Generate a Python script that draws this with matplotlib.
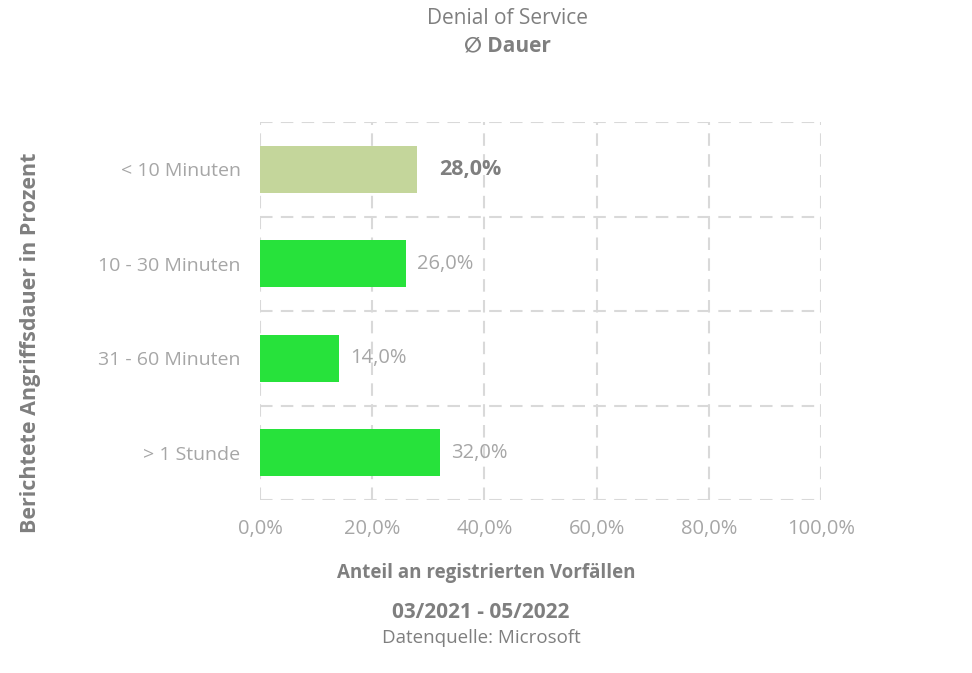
import matplotlib
matplotlib.use("Agg")
import matplotlib.pyplot as plt

categories = ["< 10 Minuten", "10 - 30 Minuten", "31 - 60 Minuten", "> 1 Stunde"]
values = [28.0, 26.0, 14.0, 32.0]
colors = ["#c4d69b", "#27e23b", "#27e23b", "#27e23b"]
xticks = [0, 20, 40, 60, 80, 100]

plt.rcParams['font.family'] = ['Open Sans', 'DejaVu Sans']
fig = plt.figure(figsize=(9.72, 6.73), dpi=100)
ax = fig.add_axes([260/972, 1-500/673, (821-260)/972, (500-122)/673])

y = list(range(len(categories)))
ax.barh(y, values, height=0.5, color=colors, zorder=3)
ax.set_ylim(len(categories)-0.5, -0.5)
ax.set_xlim(0, 100)
for b in [-0.5, 0.5, 1.5, 2.5, 3.5]:
    ax.axhline(b, color="#d9d9d9", lw=1.5, ls=(0, (6, 4)), zorder=1)
for t in xticks:
    ax.axvline(t, color="#d9d9d9", lw=1.5, ls=(0, (6, 4)), zorder=1)
for s in ax.spines.values():
    s.set_visible(False)
ax.set_xticks(xticks)
ax.set_xticklabels([f"{t},0%" for t in xticks], color="#a6a6a6", fontsize=14.5)
ax.set_yticks(y)
ax.set_yticklabels(categories, color="#a6a6a6", fontsize=14)
ax.tick_params(length=0, pad=14)
for i, v in enumerate(values):
    lab = f"{v:.1f}%".replace(".", ",")
    if i == 0:
        ax.text(v + 4, i, lab, va="center", ha="left", fontsize=15.5, fontweight="bold", color="#7f7f7f")
    else:
        ax.text(v + 2, i, lab, va="center", ha="left", fontsize=14.5, color="#a6a6a6")

fig.text(486/972, 1-573/673, "Anteil an registrierten Vorfällen", ha="center", va="center",
         fontsize=13.5, fontweight="bold", color="#7f7f7f")
fig.text(31/972, 1-343/673, "Berichtete Angriffsdauer in Prozent", ha="center", va="center",
         rotation=90, fontsize=15.5, fontweight="bold", color="#7f7f7f")

fig.text(507/972, 1-18/673, "Denial of Service", ha="center", va="center", fontsize=15, color="#7f7f7f")
fig.text(507/972, 1-46/673, "∅ Dauer", ha="center", va="center", fontsize=15, fontweight="bold", color="#7f7f7f")
fig.text(481/972, 1-612/673, "03/2021 - 05/2022", ha="center", va="center", fontsize=15, fontweight="bold", color="#7f7f7f")
fig.text(481/972, 1-638/673, "Datenquelle: Microsoft", ha="center", va="center", fontsize=13.5, color="#7f7f7f")

fig.savefig("out.png", dpi=100, facecolor="white")
